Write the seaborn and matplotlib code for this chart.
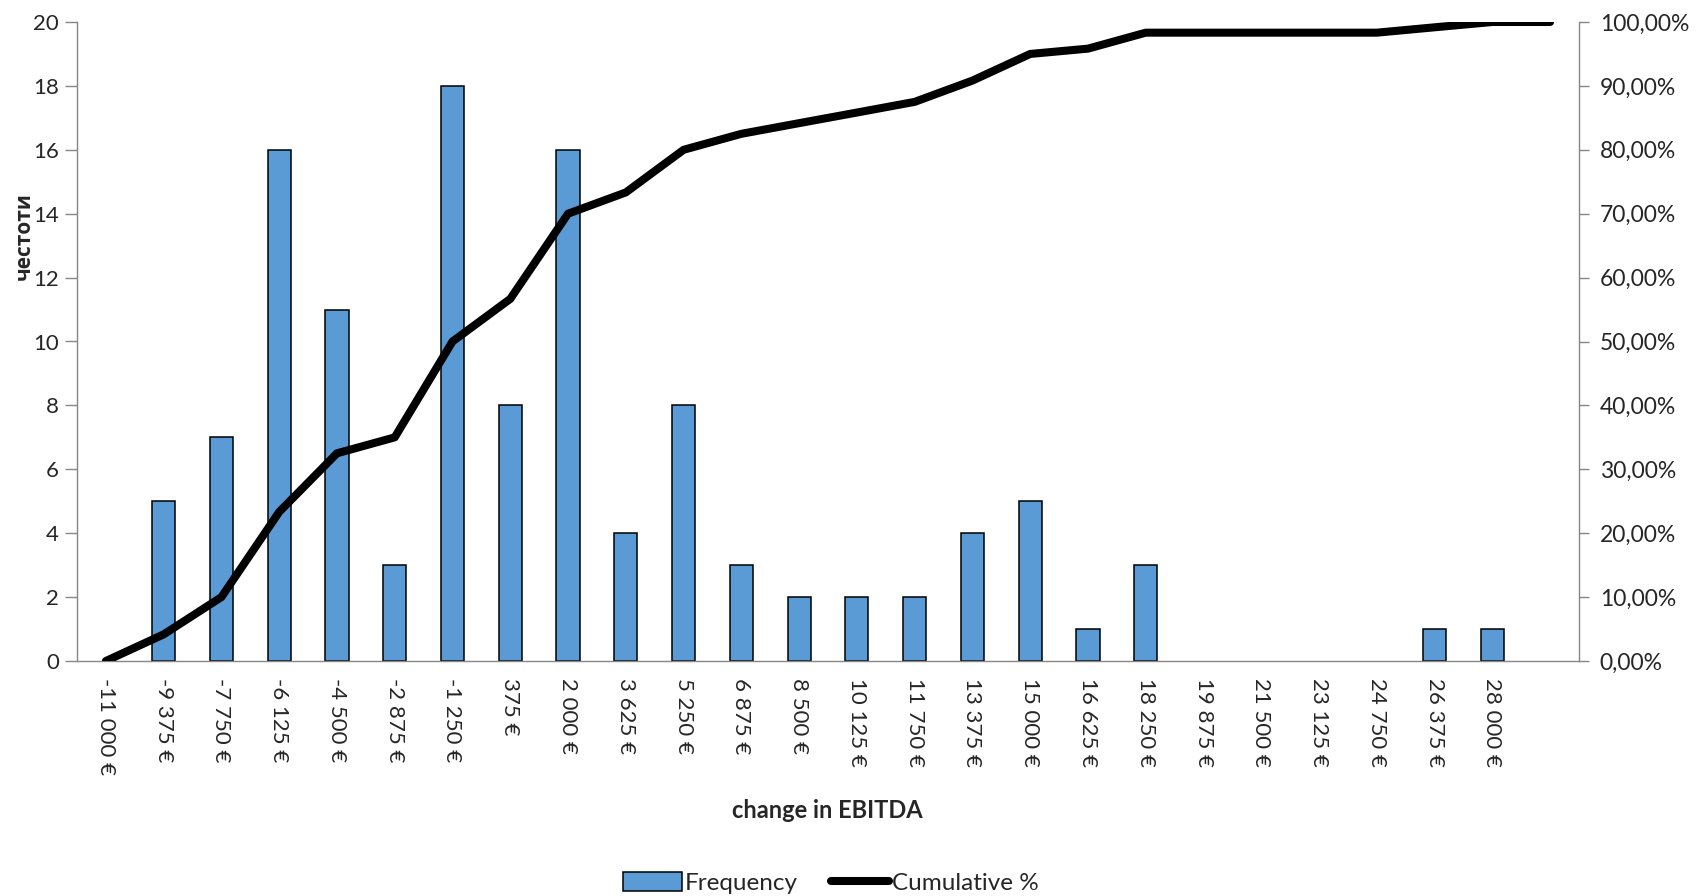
import matplotlib
matplotlib.use("Agg")
import matplotlib.pyplot as plt
import seaborn as sns
import pandas as pd
from matplotlib.patches import Patch
from matplotlib.lines import Line2D
from matplotlib.ticker import FuncFormatter, MultipleLocator

# ---- data ----
bins = ["-11 000 €", "-9 375 €", "-7 750 €", "-6 125 €", "-4 500 €", "-2 875 €",
        "-1 250 €", "375 €", "2 000 €", "3 625 €", "5 250 €", "6 875 €", "8 500 €",
        "10 125 €", "11 750 €", "13 375 €", "15 000 €", "16 625 €", "18 250 €",
        "19 875 €", "21 500 €", "23 125 €", "24 750 €", "26 375 €", "28 000 €", ""]
frequency = [0, 5, 7, 16, 11, 3, 18, 8, 16, 4, 8, 3, 2, 2, 2, 4, 5, 1, 3,
             0, 0, 0, 0, 1, 1, 0]
cumulative_pct = [0.00, 4.17, 10.00, 23.33, 32.50, 35.00, 50.00, 56.67, 70.00,
                  73.33, 80.00, 82.50, 84.17, 85.83, 87.50, 90.83, 95.00, 95.83,
                  98.33, 98.33, 98.33, 98.33, 98.33, 99.17, 100.00, 100.00]

sns.set_theme(style="white")
plt.rcParams["font.family"] = ["Lato", "Open Sans", "DejaVu Sans"]

BAR = "#5B9BD5"
GRID = "#868686"
FS = 16

df = pd.DataFrame({"bin": bins, "freq": frequency, "cum": cumulative_pct,
                   "pos": list(range(len(bins)))})

fig = plt.figure(figsize=(16.98, 8.96), dpi=100)
ax = fig.add_axes([77 / 1698, 1 - 661 / 896, (1579 - 77) / 1698, (661 - 22) / 896])

sns.barplot(data=df, x="bin", y="freq", order=bins, ax=ax, color=BAR,
            width=0.4, edgecolor="black", linewidth=1.1, saturation=1)
for p in ax.patches:
    if p.get_height() == 0:
        p.set_visible(False)

ax.set_xlim(-0.5, len(bins) - 0.5)
ax.set_ylim(0, 20)
ax.yaxis.set_major_locator(MultipleLocator(2))
ax.set_xticks(range(len(bins)))
ax.set_xticklabels(bins, rotation=270, fontsize=FS, va="top", ha="center")
ax.set_xticks([i - 0.5 for i in range(len(bins) + 1)], minor=True)
ax.tick_params(axis="x", which="major", length=0, pad=12)
ax.tick_params(axis="x", which="minor", length=7, width=1, color=GRID, direction="out")
ax.tick_params(axis="y", length=9, width=1, color=GRID, direction="out", labelsize=FS, pad=4)
ax.set_xlabel("")
ax.set_ylabel("")
for side in ["top", "right"]:
    ax.spines[side].set_visible(False)
for side in ["left", "bottom"]:
    ax.spines[side].set_color(GRID)
    ax.spines[side].set_linewidth(1)

ax2 = ax.twinx()
sns.lineplot(data=df, x="pos", y="cum", ax=ax2, color="black", linewidth=5.8,
             solid_capstyle="round", solid_joinstyle="round")
ax2.set_ylim(0, 100)
ax2.yaxis.set_major_locator(MultipleLocator(10))
ax2.yaxis.set_major_formatter(FuncFormatter(lambda v, p: f"{v:.2f}%".replace(".", ",")))
ax2.tick_params(axis="y", length=7, width=1, color=GRID, direction="out", labelsize=16.5, pad=8)
ax2.set_xlabel("")
ax2.set_ylabel("")
ax2.set_xlim(-0.5, len(bins) - 0.5)
for side in ["top", "left", "bottom"]:
    ax2.spines[side].set_visible(False)
ax2.spines["right"].set_color(GRID)
ax2.spines["right"].set_linewidth(1)

fig.text(24 / 1698, 1 - 236 / 896, "честоти", rotation=90, fontsize=15,
         fontweight="bold", ha="center", va="center",
         family=["Open Sans", "DejaVu Sans"])
fig.text(827 / 1698, 1 - 810 / 896, "change in EBITDA", fontsize=17,
         fontweight="bold", ha="center", va="center")

handles = [Patch(facecolor=BAR, edgecolor="black", linewidth=1.1),
           Line2D([0], [0], color="black", linewidth=5.8, solid_capstyle="round")]
fig.legend(handles, ["Frequency", "Cumulative %"], loc="center",
           bbox_to_anchor=(831 / 1698, 1 - 883 / 896), ncol=2, frameon=False,
           fontsize=17.5, handlelength=2.4, handletextpad=0.12, columnspacing=1.35,
           handleheight=0.8)

fig.savefig("out.png", dpi=100)
